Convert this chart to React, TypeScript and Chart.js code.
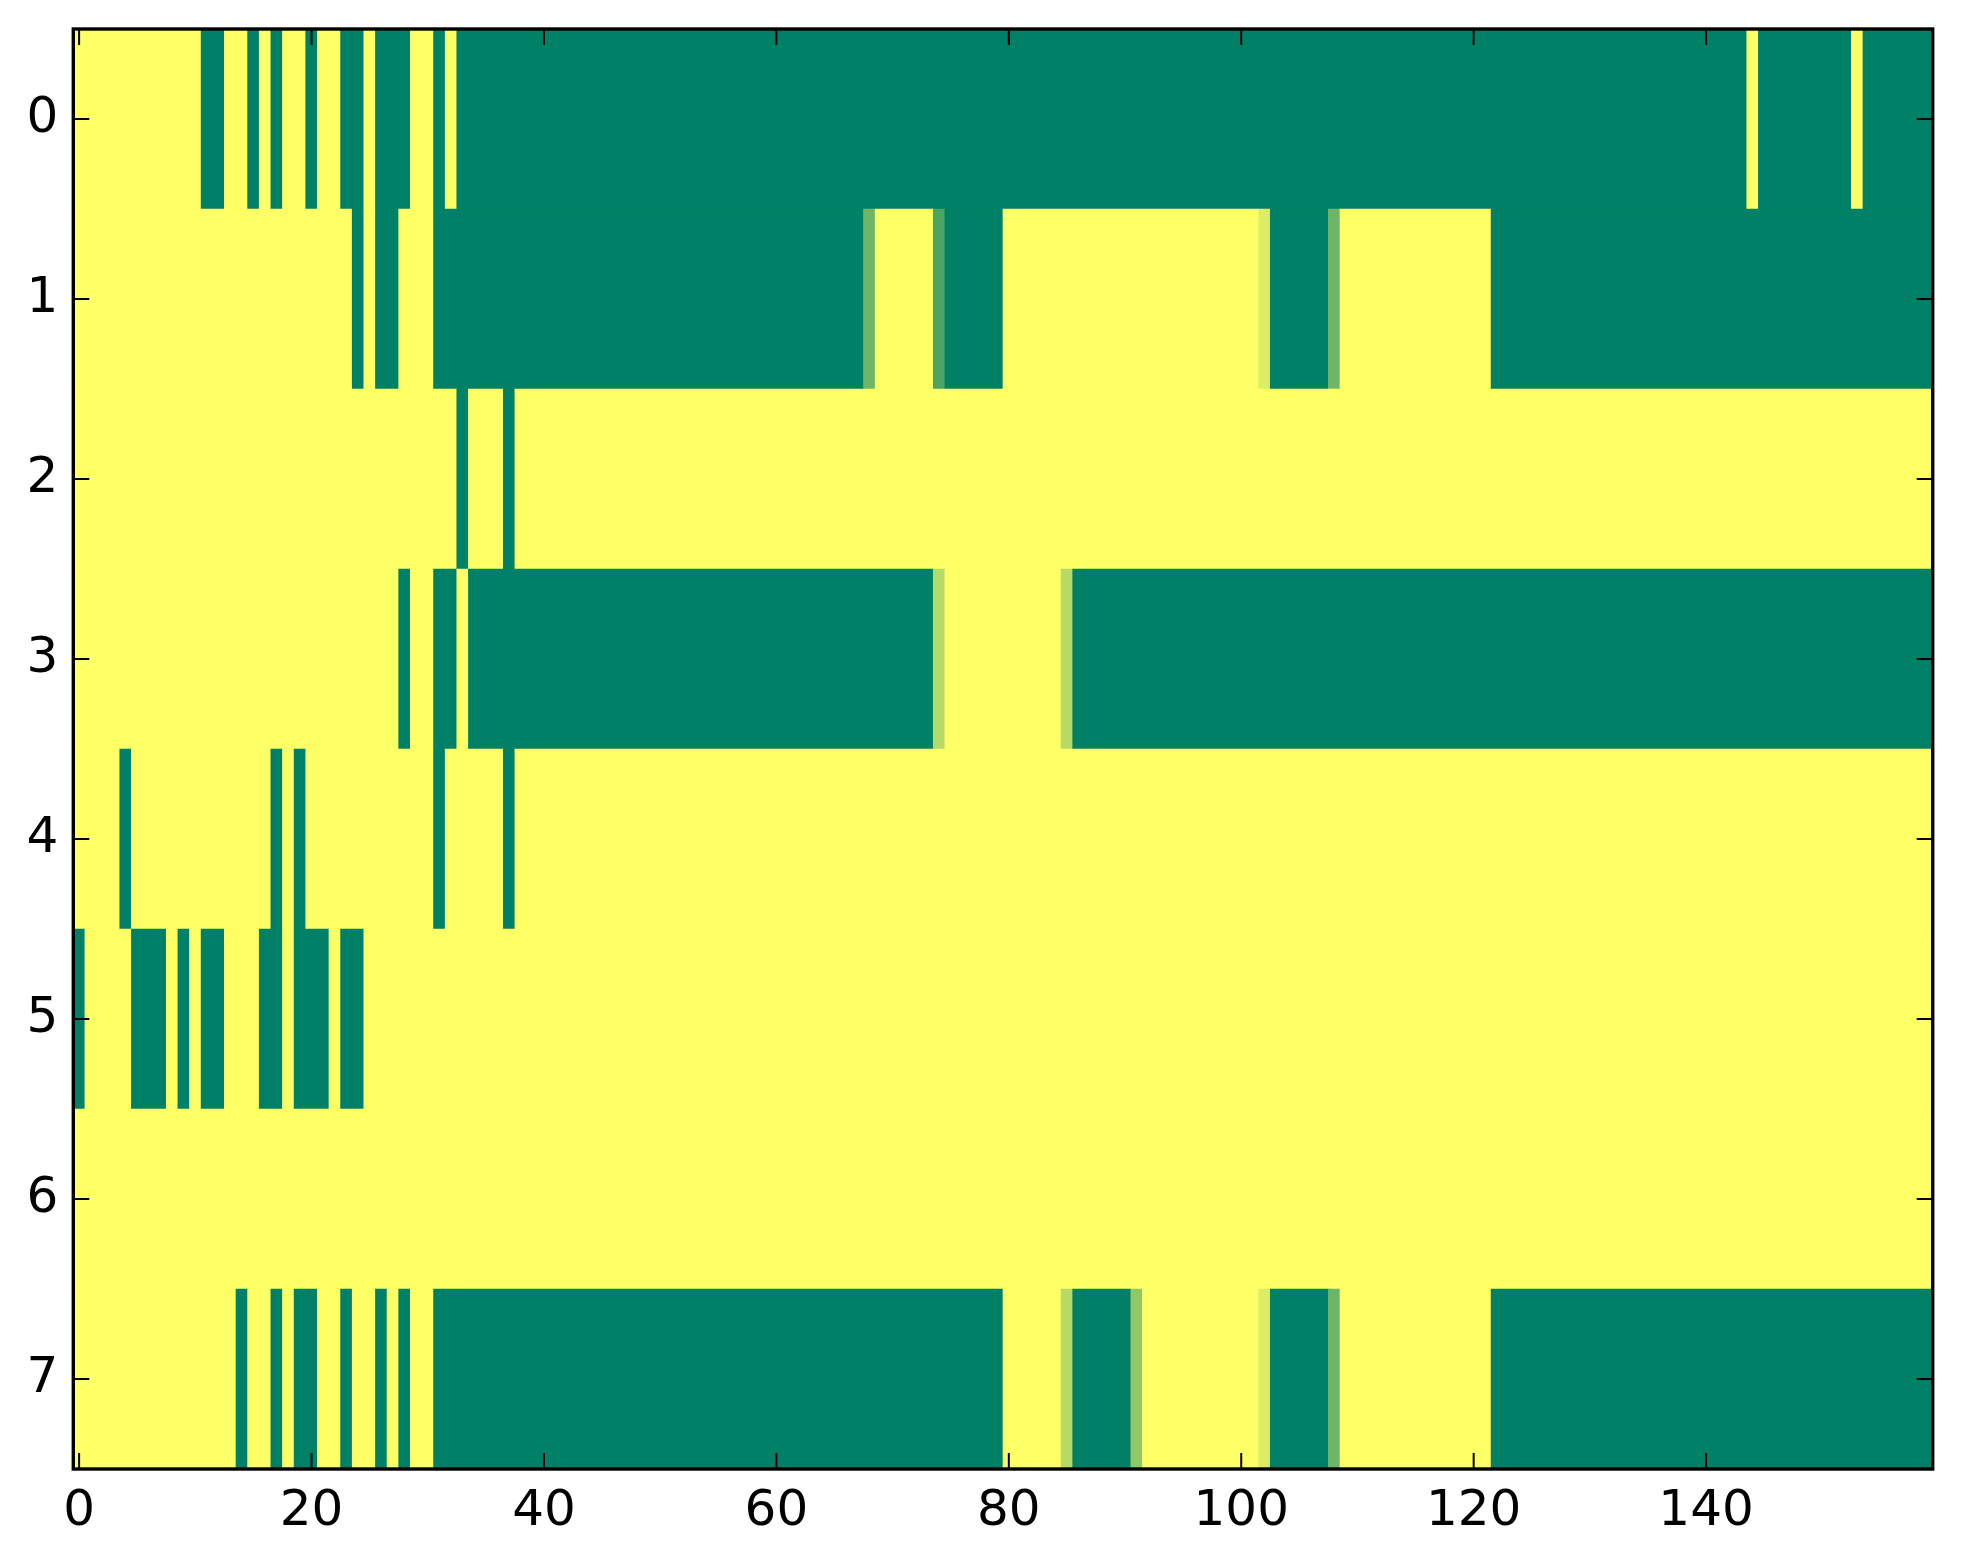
import React, { useEffect, useRef } from "react";
import { Chart, registerables } from "chart.js";

Chart.register(...registerables);

// Heatmap values (0 = green, 1 = yellow, "summer" colormap), 8 rows x 160 columns
const row0 = [
  1, 1, 1, 1, 1, 1, 1, 1, 1, 1, 1, 0, 0, 1, 1, 0, 1, 0, 1, 1,
  0, 1, 1, 0, 0, 1, 0, 0, 0, 1, 1, 0, 1, 0, 0, 0, 0, 0, 0, 0,
  0, 0, 0, 0, 0, 0, 0, 0, 0, 0, 0, 0, 0, 0, 0, 0, 0, 0, 0, 0,
  0, 0, 0, 0, 0, 0, 0, 0, 0, 0, 0, 0, 0, 0, 0, 0, 0, 0, 0, 0,
  0, 0, 0, 0, 0, 0, 0, 0, 0, 0, 0, 0, 0, 0, 0, 0, 0, 0, 0, 0,
  0, 0, 0, 0, 0, 0, 0, 0, 0, 0, 0, 0, 0, 0, 0, 0, 0, 0, 0, 0,
  0, 0, 0, 0, 0, 0, 0, 0, 0, 0, 0, 0, 0, 0, 0, 0, 0, 0, 0, 0,
  0, 0, 0, 0, 1, 0, 0, 0, 0, 0, 0, 0, 0, 1, 0, 0, 0, 0, 0, 0,
];
const row1 = [
  1, 1, 1, 1, 1, 1, 1, 1, 1, 1, 1, 1, 1, 1, 1, 1, 1, 1, 1, 1,
  1, 1, 1, 1, 0, 1, 0, 0, 1, 1, 1, 0, 0, 0, 0, 0, 0, 0, 0, 0,
  0, 0, 0, 0, 0, 0, 0, 0, 0, 0, 0, 0, 0, 0, 0, 0, 0, 0, 0, 0,
  0, 0, 0, 0, 0, 0, 0, 0, 0.43, 1, 1, 1, 1, 1, 0.29, 0, 0, 0, 0, 0,
  1, 1, 1, 1, 1, 1, 1, 1, 1, 1, 1, 1, 1, 1, 1, 1, 1, 1, 1, 1,
  1, 1, 0.86, 0, 0, 0, 0, 0, 0.43, 1, 1, 1, 1, 1, 1, 1, 1, 1, 1, 1,
  1, 1, 0, 0, 0, 0, 0, 0, 0, 0, 0, 0, 0, 0, 0, 0, 0, 0, 0, 0,
  0, 0, 0, 0, 0, 0, 0, 0, 0, 0, 0, 0, 0, 0, 0, 0, 0, 0, 0, 0,
];
const row2 = [
  1, 1, 1, 1, 1, 1, 1, 1, 1, 1, 1, 1, 1, 1, 1, 1, 1, 1, 1, 1,
  1, 1, 1, 1, 1, 1, 1, 1, 1, 1, 1, 1, 1, 0, 1, 1, 1, 0, 1, 1,
  1, 1, 1, 1, 1, 1, 1, 1, 1, 1, 1, 1, 1, 1, 1, 1, 1, 1, 1, 1,
  1, 1, 1, 1, 1, 1, 1, 1, 1, 1, 1, 1, 1, 1, 1, 1, 1, 1, 1, 1,
  1, 1, 1, 1, 1, 1, 1, 1, 1, 1, 1, 1, 1, 1, 1, 1, 1, 1, 1, 1,
  1, 1, 1, 1, 1, 1, 1, 1, 1, 1, 1, 1, 1, 1, 1, 1, 1, 1, 1, 1,
  1, 1, 1, 1, 1, 1, 1, 1, 1, 1, 1, 1, 1, 1, 1, 1, 1, 1, 1, 1,
  1, 1, 1, 1, 1, 1, 1, 1, 1, 1, 1, 1, 1, 1, 1, 1, 1, 1, 1, 1,
];
const row3 = [
  1, 1, 1, 1, 1, 1, 1, 1, 1, 1, 1, 1, 1, 1, 1, 1, 1, 1, 1, 1,
  1, 1, 1, 1, 1, 1, 1, 1, 0, 1, 1, 0, 0, 1, 0, 0, 0, 0, 0, 0,
  0, 0, 0, 0, 0, 0, 0, 0, 0, 0, 0, 0, 0, 0, 0, 0, 0, 0, 0, 0,
  0, 0, 0, 0, 0, 0, 0, 0, 0, 0, 0, 0, 0, 0, 0.71, 1, 1, 1, 1, 1,
  1, 1, 1, 1, 1, 0.71, 0, 0, 0, 0, 0, 0, 0, 0, 0, 0, 0, 0, 0, 0,
  0, 0, 0, 0, 0, 0, 0, 0, 0, 0, 0, 0, 0, 0, 0, 0, 0, 0, 0, 0,
  0, 0, 0, 0, 0, 0, 0, 0, 0, 0, 0, 0, 0, 0, 0, 0, 0, 0, 0, 0,
  0, 0, 0, 0, 0, 0, 0, 0, 0, 0, 0, 0, 0, 0, 0, 0, 0, 0, 0, 0,
];
const row4 = [
  1, 1, 1, 1, 0, 1, 1, 1, 1, 1, 1, 1, 1, 1, 1, 1, 1, 0, 1, 0,
  1, 1, 1, 1, 1, 1, 1, 1, 1, 1, 1, 0, 1, 1, 1, 1, 1, 0, 1, 1,
  1, 1, 1, 1, 1, 1, 1, 1, 1, 1, 1, 1, 1, 1, 1, 1, 1, 1, 1, 1,
  1, 1, 1, 1, 1, 1, 1, 1, 1, 1, 1, 1, 1, 1, 1, 1, 1, 1, 1, 1,
  1, 1, 1, 1, 1, 1, 1, 1, 1, 1, 1, 1, 1, 1, 1, 1, 1, 1, 1, 1,
  1, 1, 1, 1, 1, 1, 1, 1, 1, 1, 1, 1, 1, 1, 1, 1, 1, 1, 1, 1,
  1, 1, 1, 1, 1, 1, 1, 1, 1, 1, 1, 1, 1, 1, 1, 1, 1, 1, 1, 1,
  1, 1, 1, 1, 1, 1, 1, 1, 1, 1, 1, 1, 1, 1, 1, 1, 1, 1, 1, 1,
];
const row5 = [
  0, 1, 1, 1, 1, 0, 0, 0, 1, 0, 1, 0, 0, 1, 1, 1, 0, 0, 1, 0,
  0, 0, 1, 0, 0, 1, 1, 1, 1, 1, 1, 1, 1, 1, 1, 1, 1, 1, 1, 1,
  1, 1, 1, 1, 1, 1, 1, 1, 1, 1, 1, 1, 1, 1, 1, 1, 1, 1, 1, 1,
  1, 1, 1, 1, 1, 1, 1, 1, 1, 1, 1, 1, 1, 1, 1, 1, 1, 1, 1, 1,
  1, 1, 1, 1, 1, 1, 1, 1, 1, 1, 1, 1, 1, 1, 1, 1, 1, 1, 1, 1,
  1, 1, 1, 1, 1, 1, 1, 1, 1, 1, 1, 1, 1, 1, 1, 1, 1, 1, 1, 1,
  1, 1, 1, 1, 1, 1, 1, 1, 1, 1, 1, 1, 1, 1, 1, 1, 1, 1, 1, 1,
  1, 1, 1, 1, 1, 1, 1, 1, 1, 1, 1, 1, 1, 1, 1, 1, 1, 1, 1, 1,
];
const row6 = [
  1, 1, 1, 1, 1, 1, 1, 1, 1, 1, 1, 1, 1, 1, 1, 1, 1, 1, 1, 1,
  1, 1, 1, 1, 1, 1, 1, 1, 1, 1, 1, 1, 1, 1, 1, 1, 1, 1, 1, 1,
  1, 1, 1, 1, 1, 1, 1, 1, 1, 1, 1, 1, 1, 1, 1, 1, 1, 1, 1, 1,
  1, 1, 1, 1, 1, 1, 1, 1, 1, 1, 1, 1, 1, 1, 1, 1, 1, 1, 1, 1,
  1, 1, 1, 1, 1, 1, 1, 1, 1, 1, 1, 1, 1, 1, 1, 1, 1, 1, 1, 1,
  1, 1, 1, 1, 1, 1, 1, 1, 1, 1, 1, 1, 1, 1, 1, 1, 1, 1, 1, 1,
  1, 1, 1, 1, 1, 1, 1, 1, 1, 1, 1, 1, 1, 1, 1, 1, 1, 1, 1, 1,
  1, 1, 1, 1, 1, 1, 1, 1, 1, 1, 1, 1, 1, 1, 1, 1, 1, 1, 1, 1,
];
const row7 = [
  1, 1, 1, 1, 1, 1, 1, 1, 1, 1, 1, 1, 1, 1, 0, 1, 1, 0, 1, 0,
  0, 1, 1, 0, 1, 1, 0, 1, 0, 1, 1, 0, 0, 0, 0, 0, 0, 0, 0, 0,
  0, 0, 0, 0, 0, 0, 0, 0, 0, 0, 0, 0, 0, 0, 0, 0, 0, 0, 0, 0,
  0, 0, 0, 0, 0, 0, 0, 0, 0, 0, 0, 0, 0, 0, 0, 0, 0, 0, 0, 0,
  1, 1, 1, 1, 1, 0.71, 0, 0, 0, 0, 0, 0.57, 1, 1, 1, 1, 1, 1, 1, 1,
  1, 1, 0.86, 0, 0, 0, 0, 0, 0.43, 1, 1, 1, 1, 1, 1, 1, 1, 1, 1, 1,
  1, 1, 0, 0, 0, 0, 0, 0, 0, 0, 0, 0, 0, 0, 0, 0, 0, 0, 0, 0,
  0, 0, 0, 0, 0, 0, 0, 0, 0, 0, 0, 0, 0, 0, 0, 0, 0, 0, 0, 0,
];

const rows = [row0, row1, row2, row3, row4, row5, row6, row7];
const xTickValues = [0, 20, 40, 60, 80, 100, 120, 140];
const yTickValues = [0, 1, 2, 3, 4, 5, 6, 7];

// matplotlib "summer" colormap
function summer(v: number): string {
  const r = Math.round(255 * v);
  const g = Math.round(255 * (0.5 + 0.5 * v));
  return `rgb(${r},${g},102)`;
}

function buildCells() {
  const data: { x: [number, number]; y: number }[] = [];
  const colors: string[] = [];
  rows.forEach((vals, r) => {
    let start = 0;
    for (let c = 1; c <= vals.length; c++) {
      if (c === vals.length || vals[c] !== vals[start]) {
        data.push({ x: [start - 0.5, c - 0.5], y: r });
        colors.push(summer(vals[start]));
        start = c;
      }
    }
  });
  return { data, colors };
}

const framePlugin = {
  id: "frameTicks",
  afterDraw(chart: any) {
    const { ctx, chartArea } = chart;
    const { left, right, top, bottom } = chartArea;
    const xs = chart.scales.x;
    const ys = chart.scales.y;
    const len = 16;
    ctx.save();
    ctx.strokeStyle = "#000";
    ctx.lineWidth = 2;
    ctx.beginPath();
    xs.ticks.forEach((t: any) => {
      const px = xs.getPixelForValue(t.value);
      ctx.moveTo(px, bottom);
      ctx.lineTo(px, bottom - len);
      ctx.moveTo(px, top);
      ctx.lineTo(px, top + len);
    });
    ys.ticks.forEach((t: any) => {
      const py = ys.getPixelForValue(t.value);
      ctx.moveTo(left, py);
      ctx.lineTo(left + len, py);
      ctx.moveTo(right, py);
      ctx.lineTo(right - len, py);
    });
    ctx.stroke();
    ctx.lineWidth = 3.4;
    ctx.strokeRect(left, top, right - left, bottom - top);
    ctx.restore();
  },
};

export default function App() {
  const ref = useRef<HTMLCanvasElement | null>(null);
  useEffect(() => {
    if (!ref.current) return;
    const { data, colors } = buildCells();
    const font = { family: "DejaVu Sans", size: 50 };
    const chart = new Chart(ref.current, {
      type: "bar",
      data: {
        datasets: [
          {
            data: data as any,
            backgroundColor: colors,
            borderWidth: 0,
            barPercentage: 1,
            categoryPercentage: 1,
          },
        ],
      },
      options: {
        animation: false,
        responsive: false,
        indexAxis: "y",
        layout: { padding: { top: 29, right: 30.3, left: 0, bottom: 0 } },
        plugins: { legend: { display: false }, tooltip: { enabled: false } },
        scales: {
          x: {
            type: "linear",
            min: -0.5,
            max: 159.5,
            offset: false,
            grid: { display: false, drawTicks: false },
            border: { display: false },
            afterBuildTicks: (s: any) => {
              s.ticks = xTickValues.map((v) => ({ value: v }));
            },
            afterFit: (s: any) => {
              s.height = 95;
              s.paddingLeft = 0;
              s.paddingRight = 0;
            },
            ticks: { font, color: "#000", padding: 13, maxRotation: 0, autoSkip: false },
          },
          y: {
            type: "linear",
            min: -0.5,
            max: 7.5,
            reverse: true,
            offset: false,
            grid: { display: false, drawTicks: false },
            border: { display: false },
            afterBuildTicks: (s: any) => {
              s.ticks = yTickValues.map((v) => ({ value: v }));
            },
            afterFit: (s: any) => {
              s.width = 73.3;
              s.paddingTop = 0;
              s.paddingBottom = 0;
            },
            ticks: { font, color: "#000", padding: 15, autoSkip: false },
          },
        },
      },
      plugins: [framePlugin],
    });
    return () => chart.destroy();
  }, []);
  return (
    <div style={{ position: "fixed", left: 0, top: 0, width: 1963, height: 1564, background: "#fff" }}>
      <canvas ref={ref} width={1963} height={1564} style={{ width: 1963, height: 1564 }} />
    </div>
  );
}
